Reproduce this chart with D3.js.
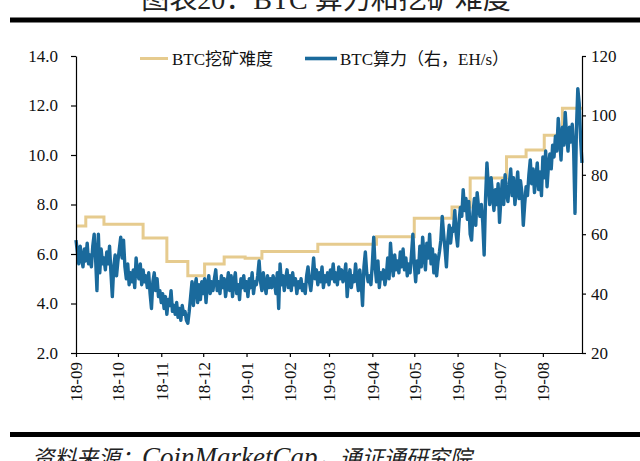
<!DOCTYPE html>
<html><head><meta charset="utf-8">
<script src="https://cdn.jsdelivr.net/npm/d3@7/dist/d3.min.js"></script>
<style>
html,body{margin:0;padding:0;background:#fff;}
svg{display:block;}
text{font-family:"Liberation Serif","Noto Sans CJK SC",serif;}
</style></head>
<body>
<svg id="chart" width="640" height="461"></svg>
<script>
// ---- data ----
const titleText = "图表20：BTC 算力和挖矿难度";
const sourceCJK1 = "资料来源：";
const sourceLatin = "CoinMarketCap";
const sourceCJK2 = "，通证通研究院";
const seriesNames = ["BTC挖矿难度", "BTC算力（右，EH/s）"];
const leftTicks = [2, 4, 6, 8, 10, 12, 14];
const rightTicks = [20, 40, 60, 80, 100, 120];
const xStart = "2018-09-01", xEnd = "2019-08-29";

// mining difficulty (T), step changes
const diffDates = ["2018-09-01","2018-09-08","2018-09-21","2018-10-19","2018-11-05","2018-11-20",
  "2018-12-02","2018-12-16","2018-12-31","2019-01-12","2019-02-21","2019-04-04","2019-05-01",
  "2019-05-28","2019-06-10","2019-07-06","2019-07-20","2019-08-02","2019-08-15","2019-08-29"];
const diffValues = [7.13,7.5,7.2,6.65,5.7,5.12,5.6,5.88,5.83,6.1,6.39,6.7,7.44,7.9,9.07,9.93,10.2,10.8,11.89,11.89];

// daily hashrate (EH/s) from hashStart
const hashStart = "2018-09-01";
const hashrate = [
  58,54,50,56,52,49,55,51,57,50,  53,49,56,60,52,41,60,47,55,50,
  52,48,54,50,56,47,39,49,53,46,  51,55,59,52,58,49,45,50,43,47,
  44,48,42,52,47,45,50,43,48,44,  46,42,47,40,35,44,47,41,45,39,
  41,37,40,35,39,33,38,36,41,34,  36,33,37,32,35,31,36,33,34,31,
  30,34,39,44,36,42,45,37,43,38,  44,40,45,37,43,46,40,44,41,45,
  48,41,44,40,46,42,45,39,43,47,  41,46,39,44,47,40,43,38,45,42,
  46,41,44,39,45,42,47,40,44,43,  46,51,44,41,47,43,40,46,42,45,
  42,46,44,40,47,35,50,43,46,41,  45,48,42,46,41,47,43,45,40,44,
  42,45,41,43,40,46,49,44,41,46,  52,45,48,43,47,44,49,42,46,44,
  47,43,48,45,50,44,47,43,49,45,  48,44,46,50,39,45,48,42,46,44,
  50,45,41,48,44,36,49,54,47,44,  46,43,50,59,49,44,51,42,47,45,
  48,43,46,52,45,57,50,46,53,48,  51,47,54,49,55,48,52,46,50,47,
  53,60,50,44,51,47,56,49,59,53,  48,57,52,60,50,55,47,53,46,51,
  54,58,66,60,55,49,58,63,57,62,  61,68,60,56,64,69,66,75,68,72,
  65,71,60,58,67,72,63,74,69,66,  70,64,53,72,84,76,70,79,73,68,
  75,70,77,64,72,78,70,80,74,71,  77,82,73,79,70,75,81,72,78,74,
  63,70,76,73,80,85,77,82,74,79,  84,75,81,73,86,79,88,76,83,87,
  82,90,86,93,88,99,92,85,96,90,  101,93,88,96,91,97,89,67,95,109,
  104,92,84];

// ---- chart ----
const svg = d3.select("#chart");
const parse = d3.timeParse("%Y-%m-%d");
const mLeft = 76, mRight = 582, mTop = 56, mBottom = 353;

const x = d3.scaleTime().domain([parse(xStart), parse(xEnd)]).range([mLeft, mRight]);
const yL = d3.scaleLinear().domain([2, 14]).range([mBottom, mTop]);
const yR = d3.scaleLinear().domain([20, 120]).range([mBottom, mTop]);

const colDiff = "#E6CB8E", colHash = "#1A6A9C";

// title (cut off at top) and rules
svg.append("text").attr("x", 326).attr("y", 9).attr("text-anchor", "middle")
  .style("font-size", "28px").attr("fill", "#222").text(titleText);
svg.append("rect").attr("x", 10).attr("y", 17.5).attr("width", 630).attr("height", 5).attr("fill", "#000");
svg.append("rect").attr("x", 10).attr("y", 432).attr("width", 630).attr("height", 5).attr("fill", "#000");
const src = svg.append("text").attr("x", 32).attr("y", 466).attr("fill", "#222")
  .style("font-style", "italic").style("font-size", "22px");
src.append("tspan").text(sourceCJK1);
src.append("tspan").style("font-size", "27px").text(sourceLatin);
src.append("tspan").text(sourceCJK2);

// lines
const diffData = diffDates.map((d, i) => ({date: parse(d), v: diffValues[i]}));
const t0 = parse(hashStart);
const hashData = hashrate.map((v, i) => ({date: d3.timeDay.offset(t0, i), v}));

svg.append("path").datum(diffData)
  .attr("fill", "none").attr("stroke", colDiff).attr("stroke-width", 3)
  .attr("d", d3.line().x(d => x(d.date)).y(d => yL(d.v)).curve(d3.curveStepAfter));
svg.append("path").datum(hashData)
  .attr("fill", "none").attr("stroke", colHash).attr("stroke-width", 3.4).attr("stroke-linejoin", "round")
  .attr("d", d3.line().x(d => x(d.date)).y(d => yR(d.v)));

// axes
const gL = svg.append("g").attr("transform", `translate(${mLeft},0)`)
  .call(d3.axisLeft(yL).tickValues(leftTicks).tickFormat(d3.format(".1f")).tickSize(5).tickSizeOuter(0).tickPadding(13));
const gR = svg.append("g").attr("transform", `translate(${mRight},0)`)
  .call(d3.axisRight(yR).tickValues(rightTicks).tickFormat(d3.format("d")).tickSize(4).tickSizeOuter(0).tickPadding(5));
const gX = svg.append("g").attr("transform", `translate(0,${mBottom})`)
  .call(d3.axisBottom(x).ticks(d3.timeMonth.every(1)).tickFormat(d3.timeFormat("%y-%m")).tickSize(4).tickSizeOuter(0));
gX.selectAll("text").attr("transform", "rotate(-90)").attr("x", -9).attr("y", 0).attr("dy", "0.35em")
  .style("text-anchor", "end");
[gL, gR, gX].forEach(g => {
  g.selectAll("path,line").attr("stroke", "#000").attr("stroke-width", 1.2);
  g.selectAll("text").attr("fill", "#111").style("font-size", "17px")
    .style("font-family", "'Liberation Serif', serif");
});

// legend
const legend = [
  {name: seriesNames[0], color: colDiff, x1: 140, x2: 168, tx: 172, w: 3},
  {name: seriesNames[1], color: colHash, x1: 305, x2: 337, tx: 340, w: 3.6}
];
legend.forEach(l => {
  svg.append("line").attr("x1", l.x1).attr("x2", l.x2).attr("y1", 58.5).attr("y2", 58.5)
    .attr("stroke", l.color).attr("stroke-width", l.w);
  svg.append("text").attr("x", l.tx).attr("y", 65).style("font-size", "17px").attr("fill", "#111").text(l.name);
});
</script>
</body></html>
